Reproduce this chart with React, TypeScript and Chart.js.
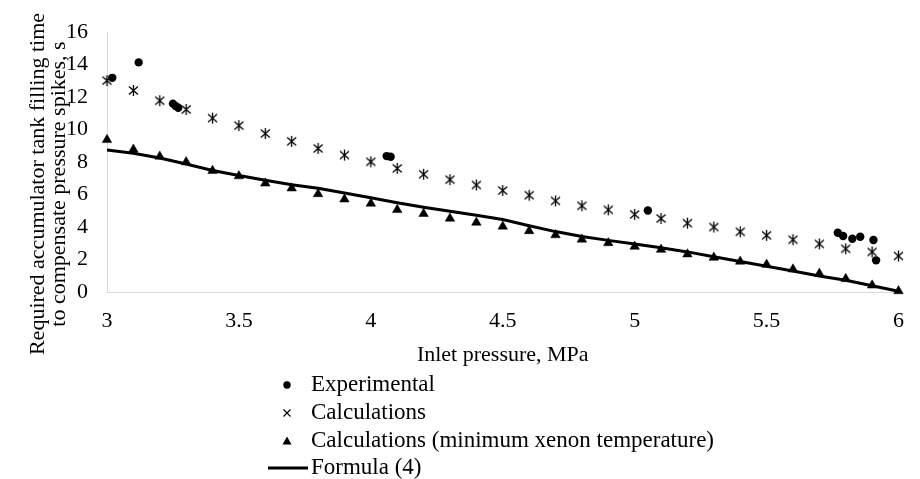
import React, { useEffect, useRef } from "react";
import { Chart, registerables } from "chart.js";

Chart.register(...registerables);

// ---------- data ----------
const xTickLabels = ["3", "3.5", "4", "4.5", "5", "5.5", "6"];
const yTickLabels = ["0", "2", "4", "6", "8", "10", "12", "14", "16"];

const pressure = [
  3.0, 3.1, 3.2, 3.3, 3.4, 3.5, 3.6, 3.7, 3.8, 3.9, 4.0, 4.1, 4.2, 4.3, 4.4, 4.5,
  4.6, 4.7, 4.8, 4.9, 5.0, 5.1, 5.2, 5.3, 5.4, 5.5, 5.6, 5.7, 5.8, 5.9, 6.0,
];

const calculations = [
  13.02, 12.41, 11.78, 11.24, 10.71, 10.25, 9.76, 9.28, 8.84, 8.43, 8.02, 7.61, 7.25,
  6.92, 6.59, 6.25, 5.96, 5.61, 5.31, 5.06, 4.78, 4.53, 4.24, 4.0, 3.71, 3.49, 3.22,
  2.96, 2.66, 2.47, 2.22,
];

const calculationsMinTemp = [
  9.37, 8.78, 8.35, 8.0, 7.47, 7.14, 6.69, 6.39, 6.04, 5.71, 5.45, 5.06, 4.82, 4.53,
  4.28, 4.04, 3.76, 3.51, 3.24, 3.02, 2.8, 2.61, 2.33, 2.12, 1.88, 1.69, 1.4, 1.14,
  0.81, 0.41, 0.06,
];

const formula4 = [
  8.75, 8.55, 8.25, 7.88, 7.48, 7.18, 6.88, 6.6, 6.39, 6.1, 5.8, 5.5, 5.22, 4.97,
  4.73, 4.46, 4.08, 3.72, 3.42, 3.18, 2.96, 2.72, 2.47, 2.17, 1.88, 1.58, 1.29, 0.98,
  0.72, 0.38, 0.05,
];

const experimentalX = [
  3.02, 3.12, 3.25, 3.26, 3.27, 4.06, 4.075, 5.05, 5.77, 5.79, 5.825, 5.855, 5.905, 5.915,
];
const experimentalY = [
  13.19, 14.14, 11.6, 11.45, 11.35, 8.37, 8.33, 5.02, 3.65, 3.45, 3.28, 3.4, 3.2, 1.95,
];

const seriesNames = [
  "Experimental",
  "Calculations",
  "Calculations (minimum xenon temperature)",
  "Formula (4)",
];
const xTitle = "Inlet pressure, MPa";
const yTitleLines = [
  "Required accumulator tank filling time",
  "to compensate pressure spikes, s",
];

// ---------- styling ----------
const FONT = "'Liberation Serif', 'Times New Roman', serif";
const FS = 22;
const LEGEND_FS = 23;
const AXIS_GRAY = "#d9d9d9";

function makeStar(): HTMLCanvasElement {
  const c = document.createElement("canvas");
  c.width = 13;
  c.height = 13;
  const g = c.getContext("2d")!;
  g.strokeStyle = "#000";
  g.lineWidth = 1.3;
  g.beginPath();
  g.moveTo(2, 2.5);
  g.lineTo(11, 10.5);
  g.moveTo(11, 2.5);
  g.lineTo(2, 10.5);
  g.moveTo(6.5, 1);
  g.lineTo(6.5, 12);
  g.stroke();
  return c;
}

const yTitlePlugin = {
  id: "yTitleCustom",
  afterDraw(chart: any) {
    const { ctx } = chart;
    ctx.save();
    ctx.fillStyle = "#000";
    ctx.font = `${FS}px ${FONT}`;
    ctx.textAlign = "center";
    ctx.textBaseline = "middle";
    const cy = 184;
    const xs = [38, 59];
    yTitleLines.forEach((line, i) => {
      ctx.save();
      ctx.translate(xs[i], cy);
      ctx.rotate(-Math.PI / 2);
      ctx.fillText(line, 0, 0);
      ctx.restore();
    });
    ctx.restore();
  },
};

const legendPlugin = {
  id: "verticalLegend",
  afterDraw(chart: any) {
    const { ctx } = chart;
    const rows = [385, 413, 441, 468];
    const mx = 287;
    const tx = 311;
    ctx.save();
    ctx.fillStyle = "#000";
    ctx.strokeStyle = "#000";
    // circle
    ctx.beginPath();
    ctx.arc(mx, rows[0], 3.7, 0, Math.PI * 2);
    ctx.fill();
    // x
    ctx.lineWidth = 1.2;
    ctx.beginPath();
    ctx.moveTo(mx - 3.5, rows[1] - 3.5);
    ctx.lineTo(mx + 3.5, rows[1] + 3.5);
    ctx.moveTo(mx + 3.5, rows[1] - 3.5);
    ctx.lineTo(mx - 3.5, rows[1] + 3.5);
    ctx.stroke();
    // triangle
    ctx.beginPath();
    ctx.moveTo(mx, rows[2] - 4.5);
    ctx.lineTo(mx + 4.5, rows[2] + 3.5);
    ctx.lineTo(mx - 4.5, rows[2] + 3.5);
    ctx.closePath();
    ctx.fill();
    // line
    ctx.lineWidth = 3;
    ctx.beginPath();
    ctx.moveTo(268, rows[3]);
    ctx.lineTo(308, rows[3]);
    ctx.stroke();
    // texts
    ctx.font = `${LEGEND_FS}px ${FONT}`;
    ctx.textAlign = "left";
    ctx.textBaseline = "middle";
    seriesNames.forEach((n, i) => ctx.fillText(n, tx, rows[i]));
    ctx.restore();
  },
};

export default function App() {
  const ref = useRef<HTMLCanvasElement | null>(null);

  useEffect(() => {
    document.body.style.margin = "0";
    const canvas = ref.current!;
    const star = makeStar();
    const chart = new Chart(canvas, {
      type: "scatter",
      data: {
        datasets: [
          {
            label: seriesNames[0],
            data: experimentalX.map((x, i) => ({ x, y: experimentalY[i] })),
            pointStyle: "circle",
            pointRadius: 4.2,
            backgroundColor: "#000",
            borderColor: "#000",
            borderWidth: 0,
            clip: false as any,
          },
          {
            label: seriesNames[1],
            data: pressure.map((x, i) => ({ x, y: calculations[i] })),
            pointStyle: star as any,
            pointRadius: 6,
            backgroundColor: "#000",
            borderColor: "#000",
            clip: false as any,
          },
          {
            label: seriesNames[2],
            data: pressure.map((x, i) => ({ x, y: calculationsMinTemp[i] })),
            pointStyle: "triangle",
            pointRadius: 5.5,
            backgroundColor: "#000",
            borderColor: "#000",
            borderWidth: 0.5,
            clip: false as any,
          },
          {
            label: seriesNames[3],
            data: pressure.map((x, i) => ({ x, y: formula4[i] })),
            showLine: true,
            pointRadius: 0,
            borderColor: "#000",
            backgroundColor: "#000",
            borderWidth: 3,
            tension: 0,
            clip: false as any,
          },
        ],
      },
      options: {
        responsive: false,
        animation: false,
        layout: { padding: { top: 20, right: 14, bottom: 111, left: 0 } },
        plugins: {
          legend: { display: false },
          tooltip: { enabled: false },
        },
        scales: {
          x: {
            type: "linear",
            min: 3,
            max: 6,
            ticks: {
              stepSize: 0.5,
              padding: 16,
              color: "#000",
              font: { family: FONT, size: FS },
              maxRotation: 0,
              autoSkip: false,
              callback: (_v: any, i: number) => xTickLabels[i],
            },
            grid: { display: false, drawTicks: false },
            border: { display: true, color: AXIS_GRAY, width: 1 },
            title: {
              display: true,
              text: xTitle,
              color: "#000",
              font: { family: FONT, size: FS },
              padding: { top: 0, bottom: 0 },
            },
            afterFit: (s: any) => {
              s.height = 76;
            },
          },
          y: {
            type: "linear",
            min: 0,
            max: 16,
            ticks: {
              stepSize: 2,
              padding: 19,
              color: "#000",
              font: { family: FONT, size: FS },
              autoSkip: false,
              callback: (_v: any, i: number) => yTickLabels[i],
            },
            grid: { display: false, drawTicks: false },
            border: { display: true, color: AXIS_GRAY, width: 1 },
            afterFit: (s: any) => {
              s.width = 107;
            },
          },
        },
      } as any,
      plugins: [yTitlePlugin, legendPlugin],
    });
    return () => chart.destroy();
  }, []);

  return (
    <div style={{ width: 920, height: 479, background: "#fff" }}>
      <canvas ref={ref} width={920} height={479} style={{ display: "block" }} />
    </div>
  );
}
